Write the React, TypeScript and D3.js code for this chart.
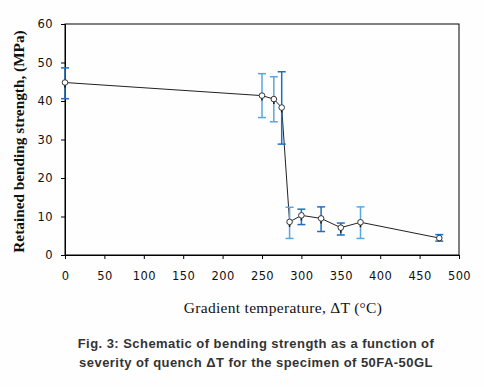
import React, { useEffect, useRef } from 'react';
import * as d3 from 'd3';

// Retained bending strength vs quench severity (50FA-50GL)
const deltaT = [0, 250, 265, 275, 285, 300, 325, 350, 375, 475];
const strength = [44.8, 41.4, 40.5, 38.3, 8.6, 10.3, 9.5, 7.1, 8.5, 4.4];
const errHigh = [48.6, 47.1, 46.3, 47.6, 12.4, 11.9, 12.5, 8.3, 12.5, 5.3];
const errLow = [40.6, 35.7, 34.6, 28.8, 4.3, 7.9, 6.1, 5.2, 4.3, 3.6];
const errShade = ['dark', 'light', 'light', 'dark', 'light', 'dark', 'dark', 'dark', 'light', 'dark'];
const xTicks = [0, 50, 100, 150, 200, 250, 300, 350, 400, 450, 500];
const yTicks = [0, 10, 20, 30, 40, 50, 60];
const captionLines = [
  'Fig. 3: Schematic of bending strength as a function of',
  'severity of quench \u0394T for the specimen of 50FA-50GL',
];

export default function App() {
  const ref = useRef<SVGSVGElement>(null);

  useEffect(() => {
    const svg = d3.select(ref.current);
    svg.selectAll('*').remove();
    const width = 484, height = 387;
    const margin = { top: 24, left: 65, right: 25, bottom: 132 };
    const innerW = width - margin.left - margin.right;
    const innerH = height - margin.top - margin.bottom;

    svg.append('rect').attr('width', width).attr('height', height).attr('fill', '#fefefe');
    const g = svg.append('g').attr('transform', `translate(${margin.left},${margin.top})`);

    const x = d3.scaleLinear().domain([0, 500]).range([0, innerW]);
    const y = d3.scaleLinear().domain([0, 60]).range([innerH, 0]);

    g.append('rect').attr('width', innerW).attr('height', innerH)
      .attr('fill', 'none').attr('stroke', '#000').attr('stroke-width', 1);

    const tickFont = 'DejaVu Sans, Verdana, sans-serif';
    const yAxis = g.append('g').call(d3.axisLeft(y).tickValues(yTicks).tickSize(4).tickPadding(8));
    const xAxis = g.append('g').attr('transform', `translate(0,${innerH})`)
      .call(d3.axisBottom(x).tickValues(xTicks).tickSize(4).tickPadding(13));
    [xAxis, yAxis].forEach(a => {
      a.select('.domain').attr('stroke', '#000');
      a.selectAll('.tick line').attr('stroke', '#000');
      a.selectAll('.tick text').attr('font-family', tickFont).attr('font-size', 11.5)
        .attr('fill', '#111').attr('letter-spacing', 0.4);
    });

    const pts = deltaT.map((t, i) => ({ t, v: strength[i], hi: errHigh[i], lo: errLow[i], shade: errShade[i] }));

    const line = d3.line<typeof pts[0]>().x(d => x(d.t)).y(d => y(d.v));
    g.append('path').datum(pts).attr('d', line).attr('fill', 'none').attr('stroke', '#222').attr('stroke-width', 1);

    const colour = (s: string) => (s === 'dark' ? '#1f6fc0' : '#5aa6e0');
    const eb = g.selectAll('.eb').data(pts).enter().append('g').attr('class', 'eb');
    eb.append('line').attr('x1', d => x(d.t)).attr('x2', d => x(d.t))
      .attr('y1', d => y(d.hi)).attr('y2', d => y(d.lo))
      .attr('stroke', d => colour(d.shade)).attr('stroke-width', 1.5);
    [(d: typeof pts[0]) => d.hi, (d: typeof pts[0]) => d.lo].forEach(acc => {
      eb.append('line').attr('x1', d => x(d.t) - 4).attr('x2', d => x(d.t) + 4)
        .attr('y1', d => y(acc(d))).attr('y2', d => y(acc(d)))
        .attr('stroke', d => colour(d.shade)).attr('stroke-width', 1.5);
    });
    eb.append('line').attr('x1', d => x(d.t)).attr('x2', d => x(d.t))
      .attr('y1', d => y(d.v)).attr('y2', d => Math.min(y(d.lo), y(d.v) + 5))
      .attr('stroke', '#111').attr('stroke-width', 1.5);

    g.selectAll('.pt').data(pts).enter().append('circle').attr('class', 'pt')
      .attr('cx', d => x(d.t)).attr('cy', d => y(d.v)).attr('r', 2.8)
      .attr('fill', '#fff').attr('stroke', '#333').attr('stroke-width', 1);

    svg.append('text').attr('x', 283).attr('y', 313)
      .attr('text-anchor', 'middle').attr('font-family', 'Liberation Serif, Times New Roman, serif')
      .attr('font-size', 15.5).attr('letter-spacing', 0.3).attr('fill', '#111')
      .text('Gradient temperature, \u0394T (\u00B0C)');

    svg.append('text').attr('transform', 'rotate(-90)')
      .attr('x', -141.5).attr('y', 24)
      .attr('text-anchor', 'middle').attr('font-family', 'Liberation Serif, Times New Roman, serif')
      .attr('font-weight', 'bold').attr('font-size', 15.3).attr('fill', '#111')
      .text('Retained bending strength, (MPa)');

    svg.selectAll('.cap').data(captionLines).enter().append('text').attr('class', 'cap')
      .attr('x', 256).attr('y', (d, i) => 348 + i * 19)
      .attr('text-anchor', 'middle').attr('font-family', 'Liberation Sans, Arial, sans-serif')
      .attr('font-weight', 'bold').attr('font-size', 13).attr('letter-spacing', 0.45)
      .attr('fill', '#333').text(d => d);
  }, []);

  return <svg ref={ref} width={484} height={387} style={{ position: 'absolute', left: 0, top: 0 }} />;
}
